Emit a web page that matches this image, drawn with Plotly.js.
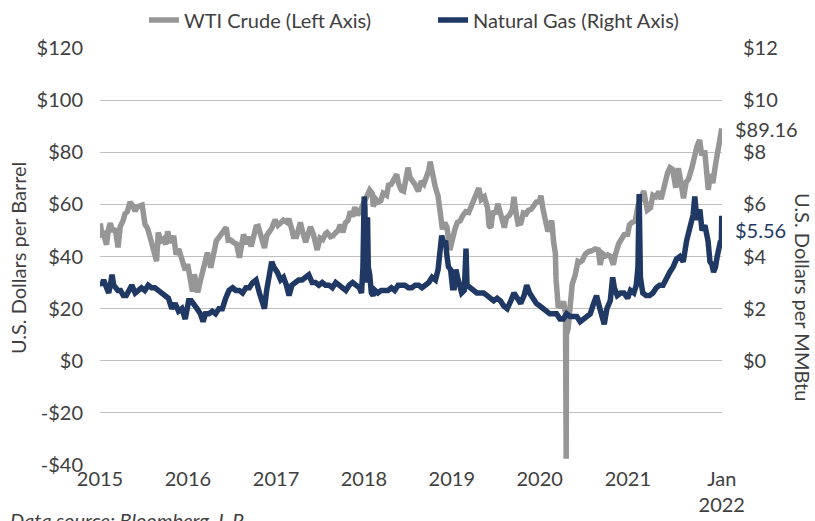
<!DOCTYPE html>
<html>
<head>
<meta charset="utf-8">
<script src="https://cdn.plot.ly/plotly-3.0.1.min.js"></script>
<style>html,body{margin:0;padding:0;background:#fff;}#chart{width:815px;height:521px;}</style>
</head>
<body>
<div id="chart"></div>
<script>
// WTI Crude (USD per barrel)
const wtiDates = ["2015-01-02","2015-01-09","2015-01-16","2015-01-28","2015-02-05","2015-02-13","2015-02-23","2015-03-05","2015-03-17","2015-03-26","2015-04-07","2015-04-15","2015-04-24","2015-05-06","2015-05-15","2015-05-27","2015-06-05","2015-06-15","2015-06-25","2015-07-07","2015-07-17","2015-07-28","2015-08-07","2015-08-14","2015-08-24","2015-08-31","2015-09-10","2015-09-21","2015-10-01","2015-10-09","2015-10-21","2015-11-03","2015-11-13","2015-11-24","2015-12-04","2015-12-14","2015-12-21","2015-12-31",
"2016-01-08","2016-01-20","2016-01-28","2016-02-11","2016-02-19","2016-03-01","2016-03-08","2016-03-22","2016-04-05","2016-04-15","2016-04-28","2016-05-12","2016-05-26","2016-06-08","2016-06-16","2016-06-27","2016-07-08","2016-07-21","2016-08-02","2016-08-11","2016-08-19","2016-08-31","2016-09-08","2016-09-20","2016-09-30","2016-10-10","2016-10-19","2016-10-31","2016-11-14","2016-11-23","2016-11-30","2016-12-07","2016-12-15","2016-12-28",
"2017-01-09","2017-01-20","2017-02-01","2017-02-15","2017-02-23","2017-03-08","2017-03-14","2017-03-27","2017-04-04","2017-04-12","2017-04-21","2017-05-04","2017-05-15","2017-05-24","2017-06-06","2017-06-21","2017-07-03","2017-07-14","2017-07-26","2017-08-01","2017-08-15","2017-08-25","2017-09-06","2017-09-15","2017-09-25","2017-10-06","2017-10-16","2017-10-27","2017-11-06","2017-11-15","2017-11-24","2017-12-06","2017-12-15","2017-12-27",
"2018-01-08","2018-01-16","2018-01-25","2018-02-05","2018-02-09","2018-02-20","2018-03-01","2018-03-12","2018-03-22","2018-04-05","2018-04-13","2018-04-24","2018-05-04","2018-05-17","2018-05-25","2018-06-05","2018-06-15","2018-06-22","2018-07-03","2018-07-11","2018-07-19","2018-08-01","2018-08-15","2018-08-27","2018-09-07","2018-09-19","2018-09-28","2018-10-03","2018-10-12","2018-10-24","2018-11-05","2018-11-13","2018-11-23","2018-12-03","2018-12-12","2018-12-24",
"2019-01-03","2019-01-14","2019-01-24","2019-02-05","2019-02-15","2019-02-28","2019-03-12","2019-03-22","2019-04-03","2019-04-16","2019-04-23","2019-05-03","2019-05-16","2019-05-29","2019-06-05","2019-06-12","2019-06-21","2019-07-02","2019-07-11","2019-07-24","2019-08-07","2019-08-16","2019-08-28","2019-09-09","2019-09-16","2019-09-25","2019-10-03","2019-10-15","2019-10-25","2019-11-06","2019-11-15","2019-11-27","2019-12-06","2019-12-18","2019-12-31",
"2020-01-06","2020-01-15","2020-01-27","2020-02-04","2020-02-14","2020-02-20","2020-02-28","2020-03-06","2020-03-09","2020-03-18","2020-03-27","2020-04-01","2020-04-09","2020-04-17","2020-04-20","2020-04-21","2020-04-28","2020-05-07","2020-05-15","2020-05-27","2020-06-08","2020-06-17","2020-06-26","2020-07-08","2020-07-22","2020-08-05","2020-08-18","2020-08-31","2020-09-08","2020-09-18","2020-09-30","2020-10-09","2020-10-21","2020-11-02","2020-11-09","2020-11-24","2020-12-04","2020-12-17","2020-12-31",
"2021-01-08","2021-01-20","2021-02-01","2021-02-12","2021-02-25","2021-03-08","2021-03-18","2021-03-23","2021-04-05","2021-04-15","2021-04-27","2021-05-10","2021-05-19","2021-06-01","2021-06-15","2021-06-25","2021-07-06","2021-07-19","2021-07-30","2021-08-10","2021-08-20","2021-08-31","2021-09-10","2021-09-24","2021-10-05","2021-10-15","2021-10-26","2021-11-04","2021-11-16","2021-11-26","2021-12-01","2021-12-10","2021-12-20","2021-12-31",
"2022-01-07","2022-01-14","2022-01-20","2022-01-26"];
const wtiValues = [52.7,48.4,48.7,44.5,50.5,52.8,49.5,50.8,43.5,51.4,53.9,56.4,57.2,60.9,59.7,57.5,59.1,59.5,59.7,52.3,50.9,47.4,43.9,42.5,38.2,49.2,45.9,46.7,44.7,49.6,45.2,47.9,40.7,42.9,39.9,36.3,34.7,37.0,
33.2,26.6,33.2,26.2,29.6,34.4,36.5,41.5,35.7,40.4,46.0,47.7,49.5,51.2,46.2,46.3,45.4,44.8,39.5,43.5,48.5,44.7,47.6,43.9,48.2,51.4,51.6,46.9,43.3,48.0,49.4,49.8,51.0,54.1,
52.0,53.2,53.9,53.1,54.5,50.3,47.7,47.7,51.0,53.1,49.6,45.5,48.9,51.4,48.2,42.5,47.1,46.5,48.8,49.2,47.6,47.9,49.2,49.9,52.2,49.3,52.9,53.9,57.4,55.3,58.9,55.9,57.3,59.6,
61.7,63.7,65.5,64.2,59.2,61.9,60.9,61.4,64.3,63.5,67.4,67.7,69.7,71.5,67.9,65.5,65.1,69.3,74.1,70.4,69.5,67.7,65.0,68.9,67.8,71.1,73.3,76.4,71.3,66.8,63.1,55.7,50.4,53.0,51.2,42.5,
47.1,50.5,53.1,53.7,55.6,57.2,56.9,59.0,62.5,64.1,66.3,61.9,62.9,58.8,51.7,51.1,57.4,56.3,60.2,55.9,51.1,54.9,55.8,57.9,62.9,56.5,52.5,52.8,56.7,56.4,57.7,58.1,59.2,60.9,61.1,
63.3,58.0,53.1,49.6,52.1,53.8,45.3,41.3,31.1,20.4,21.5,20.3,22.8,18.3,-37.6,10.0,12.3,23.6,29.4,32.8,38.2,37.9,38.5,40.9,41.9,42.2,42.9,42.6,36.8,41.1,40.2,40.6,40.0,36.8,40.3,44.9,46.3,48.4,48.5,
52.2,53.2,53.6,59.5,63.5,65.1,60.0,57.8,58.7,63.5,62.9,64.9,62.0,67.7,72.1,74.1,73.4,66.4,73.9,68.3,62.3,68.5,69.7,74.0,78.9,82.3,84.7,78.8,80.8,68.2,65.6,71.7,68.2,75.2,
78.9,83.8,86.9,89.16];

// Natural Gas (USD per MMBtu)
const ngDates = ["2015-01-02","2015-01-09","2015-01-16","2015-01-23","2015-01-30","2015-02-06","2015-02-13","2015-02-20","2015-02-27","2015-03-06","2015-03-16","2015-03-27","2015-04-08","2015-04-20","2015-05-01","2015-05-13","2015-05-27","2015-06-08","2015-06-22","2015-07-06","2015-07-20","2015-08-03","2015-08-17","2015-08-31","2015-09-14","2015-09-28","2015-10-12","2015-10-26","2015-11-09","2015-11-23","2015-12-07","2015-12-21",
"2016-01-04","2016-01-15","2016-01-25","2016-02-08","2016-02-22","2016-03-04","2016-03-14","2016-03-28","2016-04-11","2016-04-25","2016-05-09","2016-05-23","2016-06-06","2016-06-20","2016-07-05","2016-07-18","2016-08-01","2016-08-15","2016-08-29","2016-09-12","2016-09-26","2016-10-10","2016-10-24","2016-11-04","2016-11-14","2016-11-23","2016-12-05","2016-12-14","2016-12-23",
"2017-01-06","2017-01-20","2017-02-01","2017-02-13","2017-02-24","2017-03-08","2017-03-22","2017-04-05","2017-04-19","2017-05-03","2017-05-17","2017-05-31","2017-06-14","2017-06-28","2017-07-12","2017-07-26","2017-08-09","2017-08-23","2017-09-06","2017-09-20","2017-10-04","2017-10-18","2017-11-01","2017-11-15","2017-11-29","2017-12-13","2017-12-22","2017-12-28",
"2018-01-02","2018-01-05","2018-01-09","2018-01-16","2018-01-19","2018-01-25","2018-02-01","2018-02-08","2018-02-16","2018-02-28","2018-03-14","2018-03-28","2018-04-11","2018-04-25","2018-05-09","2018-05-23","2018-06-06","2018-06-20","2018-07-05","2018-07-19","2018-08-02","2018-08-16","2018-08-30","2018-09-13","2018-09-27","2018-10-11","2018-10-25","2018-11-05","2018-11-14","2018-11-20","2018-11-29","2018-12-06","2018-12-12","2018-12-18","2018-12-27",
"2019-01-04","2019-01-11","2019-01-18","2019-01-25","2019-02-01","2019-02-11","2019-02-22","2019-03-01","2019-03-05","2019-03-18","2019-04-01","2019-04-15","2019-04-29","2019-05-13","2019-05-28","2019-06-10","2019-06-24","2019-07-08","2019-07-22","2019-08-05","2019-08-19","2019-09-03","2019-09-16","2019-09-30","2019-10-14","2019-10-28","2019-11-08","2019-11-20","2019-12-04","2019-12-18",
"2020-01-02","2020-01-15","2020-01-29","2020-02-12","2020-02-26","2020-03-11","2020-03-25","2020-04-08","2020-04-22","2020-05-06","2020-05-20","2020-06-03","2020-06-17","2020-07-01","2020-07-15","2020-07-29","2020-08-12","2020-08-24","2020-09-04","2020-09-16","2020-09-25","2020-10-06","2020-10-20","2020-10-30","2020-11-06","2020-11-18","2020-12-02","2020-12-16","2020-12-31",
"2021-01-12","2021-01-26","2021-02-05","2021-02-12","2021-02-17","2021-02-22","2021-03-04","2021-03-18","2021-04-01","2021-04-15","2021-04-29","2021-05-13","2021-05-27","2021-06-10","2021-06-24","2021-07-08","2021-07-22","2021-08-05","2021-08-19","2021-09-02","2021-09-16","2021-09-29","2021-10-06","2021-10-15","2021-10-27","2021-11-05","2021-11-17","2021-11-30","2021-12-08","2021-12-16","2021-12-23","2021-12-31",
"2022-01-07","2022-01-14","2022-01-21","2022-01-24","2022-01-26"];
const ngValues = [3.0,2.9,3.1,2.9,2.7,2.6,2.9,3.3,2.9,2.8,2.7,2.7,2.5,2.5,2.7,2.9,2.6,2.7,2.8,2.7,2.9,2.8,2.8,2.7,2.6,2.5,2.4,2.0,2.2,1.9,2.0,1.6,
2.3,2.3,2.2,2.0,1.8,1.5,1.8,1.8,1.9,1.8,2.0,2.0,2.4,2.7,2.8,2.7,2.7,2.6,2.8,2.8,3.0,3.1,2.6,2.2,2.0,2.7,3.5,3.8,3.6,
3.4,3.1,3.2,2.9,2.5,2.9,3.0,3.1,3.1,3.2,3.3,3.0,3.0,2.9,3.0,2.9,2.9,2.8,3.0,2.9,2.8,2.7,2.9,3.0,2.9,2.8,2.6,3.6,
6.3,5.9,3.0,5.5,3.6,3.3,2.6,2.5,2.7,2.6,2.7,2.7,2.7,2.8,2.7,2.9,2.9,2.9,2.8,2.8,2.9,2.9,2.8,2.9,3.0,3.2,3.1,3.5,4.7,4.8,4.5,4.6,4.0,3.6,3.5,
2.8,2.8,3.5,3.2,3.0,2.6,2.7,4.3,2.9,2.8,2.7,2.6,2.6,2.6,2.5,2.4,2.3,2.4,2.3,2.1,2.0,2.3,2.6,2.4,2.2,2.5,2.9,2.6,2.4,2.2,
2.1,2.0,1.9,1.8,1.8,1.8,1.6,1.6,1.8,1.7,1.7,1.7,1.5,1.6,1.7,1.8,2.2,2.5,2.1,1.7,1.4,2.0,2.3,3.2,2.8,2.5,2.6,2.6,2.4,
2.7,2.6,2.9,3.6,6.4,3.2,2.6,2.5,2.5,2.6,2.8,2.9,2.9,3.2,3.4,3.6,3.9,4.0,3.8,4.6,5.1,5.6,6.3,5.4,5.8,5.0,5.2,4.6,3.8,3.7,3.4,3.6,
4.0,4.4,4.6,4.3,5.56];

// Axis ticks
const xTickVals = ["2015-01-01","2016-01-01","2017-01-01","2018-01-01","2019-01-01","2020-01-01","2021-01-01","2022-01-26"];
const xTickText = ["2015","2016","2017","2018","2019","2020","2021","Jan<br>2022"];
const yLeftTicks = [-40,-20,0,20,40,60,80,100,120];
const yLeftText = ["-$40","-$20","$0","$20","$40","$60","$80","$100","$120"];
const yRightTicks = [0,2,4,6,8,10,12];
const yRightText = ["$0","$2","$4","$6","$8","$10","$12"];

const FONT = "Lato, 'Open Sans', sans-serif";
const FS = 20;
const TXT = "#404040";
const GRAY = "#969696";
const NAVY = "#1f3864";

const traces = [
  {x: wtiDates, y: wtiValues, type: "scatter", mode: "lines", name: "WTI Crude (Left Axis)",
   line: {color: GRAY, width: 5.5}, yaxis: "y", legend: "legend"},
  {x: ngDates, y: ngValues, type: "scatter", mode: "lines", name: "Natural Gas (Right Axis)",
   line: {color: NAVY, width: 5.5}, yaxis: "y2", legend: "legend2"}
];

const layout = {
  width: 815, height: 521,
  margin: {l: 100, r: 93, t: 48, b: 56, autoexpand: false},
  paper_bgcolor: "#ffffff", plot_bgcolor: "#ffffff",
  font: {family: FONT, size: FS, color: TXT},
  hovermode: false,
  xaxis: {type: "date", range: ["2015-01-01", "2022-01-27"], tickvals: xTickVals, ticktext: xTickText,
          showgrid: false, zeroline: false, showline: false, ticks: "", tickangle: 0, automargin: false,
          tickfont: {family: FONT, size: FS, color: TXT}},
  yaxis: {range: [-40, 120], tickvals: yLeftTicks, ticktext: yLeftText, showgrid: true, automargin: false,
          gridcolor: "#bfbfbf", gridwidth: 1, zeroline: false, showline: false, ticks: "",
          ticklabelstandoff: 16, tickfont: {family: FONT, size: FS, color: TXT}},
  yaxis2: {range: [-4, 12], tickvals: yRightTicks, ticktext: yRightText, overlaying: "y", side: "right",
           showgrid: false, zeroline: false, showline: false, ticks: "", automargin: false,
           ticklabelstandoff: 20, tickfont: {family: FONT, size: FS, color: TXT}},
  showlegend: true,
  legend: {orientation: "h", x: 0.0707, xanchor: "left", y: 1.067, yanchor: "middle",
           font: {family: FONT, size: FS, color: TXT}, bgcolor: "rgba(0,0,0,0)", borderwidth: 0},
  legend2: {orientation: "h", x: 0.5354, xanchor: "left", y: 1.067, yanchor: "middle",
            font: {family: FONT, size: FS, color: TXT}, bgcolor: "rgba(0,0,0,0)", borderwidth: 0},
  annotations: [
    {text: "$89.16", xref: "paper", yref: "paper", x: 1.0177, y: 0.806, xanchor: "left", yanchor: "middle",
     showarrow: false, font: {family: FONT, size: FS, color: TXT}},
    {text: "$5.56", xref: "paper", yref: "paper", x: 1.0177, y: 0.5635, xanchor: "left", yanchor: "middle",
     showarrow: false, font: {family: FONT, size: FS, color: NAVY}},
    {text: "U.S. Dollars per Barrel", xref: "paper", yref: "paper", x: -0.132, y: 0.496, xanchor: "center", yanchor: "middle",
     textangle: -90, showarrow: false, font: {family: FONT, size: FS, color: TXT}},
    {text: "U.S. Dollars per MMBtu", xref: "paper", yref: "paper", x: 1.13, y: 0.403, xanchor: "center", yanchor: "middle",
     textangle: 90, showarrow: false, font: {family: FONT, size: FS, color: TXT}},
    {text: "<i>Data source: Bloomberg, L.P.</i>", xref: "paper", yref: "paper", x: -0.148, y: -0.133, xanchor: "left", yanchor: "middle",
     showarrow: false, font: {family: FONT, size: FS, color: TXT}}
  ]
};

Plotly.newPlot("chart", traces, layout, {displayModeBar: false, staticPlot: true});
</script>
</body>
</html>
